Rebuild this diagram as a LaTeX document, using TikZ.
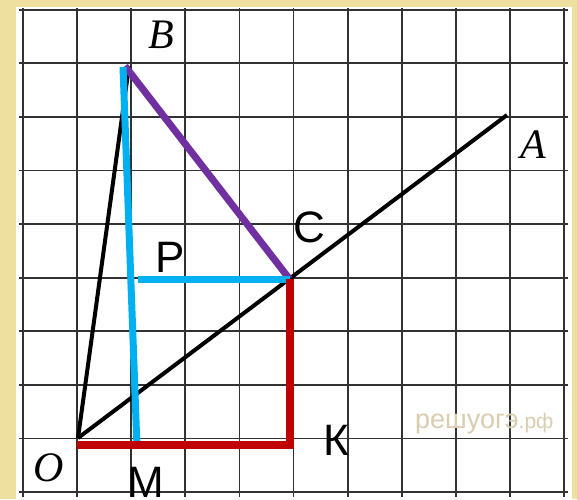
\documentclass[tikz,border=0pt]{standalone}
\usepackage{fontspec}
\setmainfont{Liberation Serif}
\newfontfamily\labfont{Liberation Sans}
\definecolor{bgbeige}{RGB}{238,225,160}
\definecolor{gridc}{RGB}{50,50,50}
\definecolor{cyanl}{RGB}{0,176,240}
\definecolor{purpl}{RGB}{112,48,160}
\definecolor{redl}{RGB}{192,0,0}
\definecolor{wmark}{RGB}{218,205,175}
\begin{document}
\begin{tikzpicture}[x=1pt,y=-1pt,
  gridline/.style={draw=gridc,line width=1.8pt},
  blackseg/.style={draw=black,line width=4pt},
  cyanseg/.style={draw=cyanl,line width=7pt},
  purpseg/.style={draw=purpl,line width=7pt},
  redseg/.style={draw=redl,line width=8pt,line join=miter},
  itlab/.style={inner sep=0pt,anchor=base,font=\fontsize{42}{42}\selectfont\itshape},
  sflab/.style={inner sep=0pt,anchor=base,font=\labfont\fontsize{44}{44}\selectfont}]
\useasboundingbox (0,0) rectangle (577,499);
\fill[bgbeige] (0,0) rectangle (577,499);
\fill[white] (16,7) rectangle (572,499);
\foreach \i in {0,...,10} \draw[gridline] ({23+54.1*\i},8) -- ({23+54.1*\i},497);
\foreach \j in {0,...,9} \draw[gridline] (19,{492-53.6*\j}) -- (568,{492-53.6*\j});
% points
\coordinate (O) at (78,438);
\coordinate (A) at (507,115);
\coordinate (B) at (129,66);
\coordinate (Bc) at (123,67);
\coordinate (Bp) at (125,66);
\coordinate (C) at (289.5,279);
\coordinate (M) at (137,447);
\coordinate (Pc) at (138,279);
\coordinate (Oc) at (77,445);
\coordinate (K) at (289.5,445);
% segments
\draw[blackseg] (O) -- (B);
\draw[blackseg] (O) -- (A);
\draw[purpseg] (Bp) -- (C);
\draw[cyanseg] (Bc) -- (M);
\draw[cyanseg] (Pc) -- (C);
\draw[redseg] (Oc) -- (K) -- (C);
% labels
\node[itlab] (lB) at (161,48) {B};
\node[itlab] (lA) at (533,158) {A};
\node[itlab] (lO) at (49,481) {O};
\node[sflab] (lC) at (309,242) {C};
\node[sflab] (lP) at (170,272) {P};
\node[sflab] (lK) at (336,455) {К};
\node[sflab] (lM) at (146,497) {M};
\node[inner sep=0pt,anchor=base west,text=wmark,font=\labfont\fontsize{27}{27}\selectfont] (wm) at (415,428) {решуогэ\fontsize{21}{21}\selectfont.рф};
\end{tikzpicture}
\end{document}
